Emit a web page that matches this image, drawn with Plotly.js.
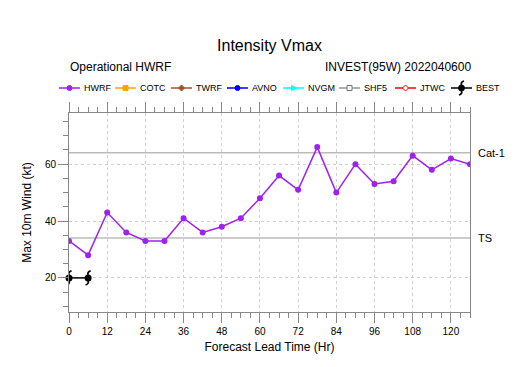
<!DOCTYPE html>
<html><head><meta charset="utf-8">
<script src="https://cdn.plot.ly/plotly-3.0.1.min.js"></script>
<style>body{margin:0;background:#fff}#chart{width:525px;height:367px}</style>
</head><body><div id="chart"></div>
<script>
const hwrfHours = [0,6,12,18,24,30,36,42,48,54,60,66,72,78,84,90,96,102,108,114,120,126];
const hwrfVmax  = [33,28,43,36,33,33,41,36,38,41,48,56,51,66,50,60,53,54,63,58,62,60];
const bestHours = [0,6];
const bestVmax  = [20,20];
const thresholds = [64,34];
const thresholdLabels = ['Cat-1','TS'];
const legendNames = ['HWRF','COTC','TWRF','AVNO','NVGM','SHF5','JTWC','BEST'];
const legendColors = ['#a020f0','#ffa500','#a0522d','#0000ff','#00ffff','#999999','#ff0000','#000000'];
const legendSymbols = ['circle','square','diamond','circle','triangle','square-open','diamond-open','tc'];
const xTicks = [0,12,24,36,48,60,72,84,96,108,120];

// plot area in pixels
const L=69,R=470,T=113,B=312;
const px = p => (p-L)/(R-L);
const py = p => (B-p)/(B-T);

const tcHooks = 'M0,3Q-1,6 2.5,7M0,-3Q1,-6 -2.5,-7';
const traces = [];
thresholds.forEach(v=>{
  traces.push({x:[0,126],y:[v,v],mode:'lines',line:{color:'#bbbbbb',width:1.5},showlegend:false,hoverinfo:'skip'});
});
traces.push({x:hwrfHours,y:hwrfVmax,name:'HWRF',mode:'lines+markers',showlegend:false,
  line:{color:legendColors[0],width:1.5},marker:{symbol:'circle',size:6,color:legendColors[0]}});
traces.push({x:bestHours,y:bestVmax,name:'BEST',mode:'lines+markers',showlegend:false,
  line:{color:'#000',width:1.5},marker:{symbol:'circle',size:7,color:'#000'},cliponaxis:false});

const shapes = [];
// tropical-cyclone hooks on BEST points (anchored to data values)
bestHours.forEach((h,i)=>{
  shapes.push({type:'path',xref:'x',yref:'y',xsizemode:'pixel',ysizemode:'pixel',xanchor:h,yanchor:bestVmax[i],
    path:tcHooks,line:{color:'#000',width:1.8},layer:'above'});
});

// manual legend
const legY = 88, legX0 = 59, legStep = 56, legLine = 21;
const annotations = [];
legendNames.forEach((n,i)=>{
  const x0 = legX0 + i*legStep, xm = x0 + legLine/2, c = legendColors[i];
  shapes.push({type:'line',xref:'paper',yref:'paper',x0:px(x0),x1:px(x0+legLine),y0:py(legY),y1:py(legY),
    line:{color:c,width:1.5}});
  const s = legendSymbols[i];
  const base = {xref:'paper',yref:'paper',xsizemode:'pixel',ysizemode:'pixel',xanchor:px(xm),yanchor:py(legY)};
  if(s==='circle'){
    shapes.push({...base,type:'circle',x0:-2.5,x1:2.5,y0:-2.5,y1:2.5,fillcolor:c,line:{color:c,width:1}});
  } else if(s==='square'){
    shapes.push({...base,type:'rect',x0:-2.5,x1:2.5,y0:-2.5,y1:2.5,fillcolor:c,line:{color:c,width:1}});
  } else if(s==='square-open'){
    shapes.push({...base,type:'rect',x0:-2.5,x1:2.5,y0:-2.5,y1:2.5,fillcolor:'#fff',line:{color:'#777',width:1}});
  } else if(s==='diamond'){
    shapes.push({...base,type:'path',path:'M0,3L3,0L0,-3L-3,0Z',fillcolor:c,line:{color:c,width:1}});
  } else if(s==='diamond-open'){
    shapes.push({...base,type:'path',path:'M0,3L3,0L0,-3L-3,0Z',fillcolor:'#fff',line:{color:c,width:1}});
  } else if(s==='triangle'){
    shapes.push({...base,type:'path',path:'M-2,2.5L3,0L-2,-2.5Z',fillcolor:c,line:{color:c,width:1}});
  } else if(s==='tc'){
    shapes.push({...base,type:'circle',x0:-3,x1:3,y0:-3,y1:3,fillcolor:'#000',line:{color:'#000',width:1}});
    shapes.push({...base,type:'path',path:tcHooks,line:{color:'#000',width:1.8}});
  }
  annotations.push({xref:'paper',yref:'paper',x:px(x0+legLine+2),y:py(legY),text:n,showarrow:false,
    xanchor:'left',yanchor:'middle',font:{size:9,color:'#000'}});
});

thresholds.forEach((v,i)=>annotations.push({x:1,xref:'paper',xanchor:'left',xshift:6,y:v,yref:'y',
  text:thresholdLabels[i],showarrow:false,font:{size:11,color:'#000'}}));
annotations.push({xref:'paper',yref:'paper',x:px(68),y:py(67),text:'Operational HWRF',showarrow:false,xanchor:'left',yanchor:'middle',font:{size:12}});
annotations.push({xref:'paper',yref:'paper',x:px(473),y:py(67),text:'INVEST(95W) 2022040600',showarrow:false,xanchor:'right',yanchor:'middle',font:{size:12}});

const layout = {
  width:525,height:367,
  margin:{l:L,r:525-R,t:T,b:367-B},
  paper_bgcolor:'#fff',plot_bgcolor:'#fff',
  font:{family:'Liberation Sans, Arial, sans-serif',color:'#000'},
  title:{text:'Intensity Vmax',x:0.5,xref:'paper',y:1-45/367,yanchor:'middle',font:{size:16}},
  showlegend:false,
  xaxis:{range:[0,126],tickvals:xTicks,ticks:'outside',ticklen:10,tickcolor:'#888',
    showline:true,linecolor:'#888',mirror:'ticks',zeroline:false,
    showgrid:true,griddash:'dot',gridcolor:'#d0d0d0',
    minor:{dtick:3,tick0:0,ticks:'outside',ticklen:5,tickcolor:'#888',showgrid:false},
    tickfont:{size:10},
    title:{text:'Forecast Lead Time (Hr)',font:{size:12},standoff:6}},
  yaxis:{range:[8,78],tickvals:[20,40,60],ticks:'outside',ticklen:10,tickcolor:'#888',
    showline:true,linecolor:'#888',mirror:true,zeroline:false,
    showgrid:true,griddash:'dot',gridcolor:'#d0d0d0',
    minor:{dtick:5,tick0:0,ticks:'outside',ticklen:5,tickcolor:'#888',showgrid:false},
    tickfont:{size:10},
    title:{text:'Max 10m Wind (kt)',font:{size:12},standoff:10}},
  shapes:shapes,
  annotations:annotations
};
Plotly.newPlot('chart',traces,layout,{staticPlot:true,displayModeBar:false});
</script></body></html>
